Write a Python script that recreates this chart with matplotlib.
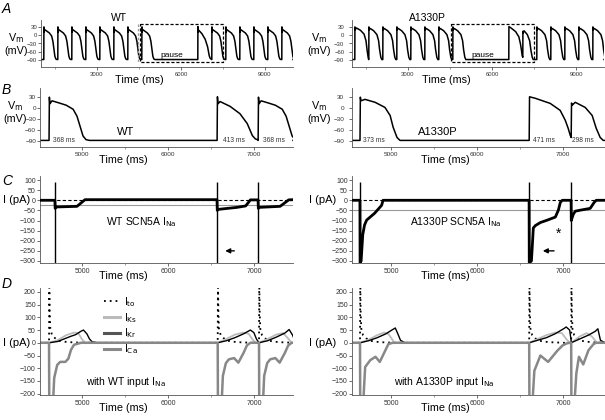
import matplotlib
matplotlib.use('Agg')
import matplotlib.pyplot as plt
from matplotlib.lines import Line2D

plt.rcParams['font.family'] = ['Liberation Sans', 'DejaVu Sans']

# ---------------- data ----------------
# Panel A: beat times (ms)
A_BEATS = [1100, 1600, 2100, 2600, 3100, 3600, 4100, 4600,
           6600, 7100, 7600, 8100, 8600, 9100, 9600]
A_LEFT_KIND = ['ss'] * 8 + ['post', 'ss', 'ss', 'ss', 'ss', 'ss', 'ss']
A_RIGHT_KIND = ['first'] + ['ss'] * 7 + ['post', 'short', 'ss', 'ss', 'ss', 'ss', 'ss']

# AP templates (time after upstroke in ms, Vm in mV)
WT_SS_T = [0, 4, 10, 35, 120, 200, 280, 325, 360, 395, 430, 470]
WT_SS_V = [-88, 30, 12, 20, 14, 8, -3, -22, -49, -76, -86, -88]
WT_POST_T = [0, 4, 10, 35, 150, 265, 350, 410, 445, 470]
WT_POST_V = [-88, 31, 12, 18, 5, -15, -42, -75, -84, -86]
MUT_FIRST_T = [0, 4, 10, 60, 200, 330, 400, 440, 480, 495]
MUT_FIRST_V = [-88, 30, 20, 26, 18, 4, -20, -55, -82, -88]
MUT_SS_T = [0, 4, 10, 58, 175, 290, 350, 385, 430, 465]
MUT_SS_V = [-88, 30, 20, 24, 16, 2, -20, -52, -80, -88]
MUT_POST_T = [0, 4, 70, 244, 360, 419, 453, 477]
MUT_POST_V = [-88, 31, 27, 13, -6, -33, -55, -74]
MUT_SHORT_T = [0, 4, 12, 47, 163, 244, 291, 337, 372]
MUT_SHORT_V = [-80, 14, 8, 16, 2, -20, -55, -80, -88]

# Panel B beat times (ms)
B_LEFT_BEATS = [4615, 6568, 7045]
B_RIGHT_BEATS = [4638, 6604, 7092]

# Panel C: I_Na (ms, pA): spikes + slow trace
C_LEFT_SPIKES = [4684, 6568, 7045]
C_RIGHT_SPIKES = [4638, 6604, 7092]
SPIKE_TOP = 90
SPIKE_BOT = -310
C_LEFT_T = [4510, 4683, 4686, 4700, 4940, 5033, 6567, 6570,
            6580, 6800, 6900, 6955, 7044, 7047, 7060, 7300, 7400, 7450]
C_LEFT_I = [0, 0, -40, -33, -30, 3, 3, -50,
            -45, -35, -28, 2, 2, -40, -35, -30, 2, 3]
C_RIGHT_T = [4545, 4637, 4639, 4651, 4670, 4691, 4715, 4808, 4889, 4906, 6603,
             6605, 6630, 6641, 6652, 6676, 6734, 6815, 6908, 6943, 6966, 6989,
             7091, 7093, 7116, 7139, 7197, 7313, 7360, 7383, 7485]
C_RIGHT_I = [0, 0, -310, -300, -170, -122, -98, -64, -25, 0, 0,
             -310, -300, -220, -137, -125, -110, -98, -83, -49, -10, 0,
             0, -100, -70, -54, -49, -40, -10, 0, 0]

# Panel D: ionic currents, per beat (time after beat in ms, pA)
D_LEFT_BEATS = [4615, 6575, 7055]
D_RIGHT_BEATS = [4638, 6604, 7092]
ITO_T = [0, 3, 8, 15, 35, 70, 116, 186, 260, 400]
ITO_I = [0, 240, 120, 55, 30, 18, 8, 4, 2, 0]
L_ICA_T = [[0, 3, 40, 60, 95, 130, 190, 225, 255, 290, 370],
           [0, 3, 40, 60, 95, 130, 190, 240, 300, 340, 380],
           [0, 3, 40, 60, 95, 130, 190, 240, 300, 340, 380]]
L_ICA_I = [[0, -280, -280, -138, -87, -75, -75, -62, -28, -8, 0],
           [0, -280, -280, -130, -80, -65, -60, -78, -40, -10, 0],
           [0, -280, -280, -130, -80, -65, -60, -78, -40, -10, 0]]
L_IKR_T = [[0, 100, 250, 310, 370, 400, 440, 470, 500, 560],
           [0, 100, 200, 300, 380, 420, 450, 470],
           [0, 100, 200, 300, 350, 390, 420]]
L_IKR_I = [[0, 5, 25, 32, 45, 50, 35, 15, 4, 0],
           [0, 8, 20, 35, 50, 40, 15, 5],
           [0, 8, 22, 38, 52, 30, 5]]
L_IKS_T = [[0, 100, 200, 290, 340, 380, 420],
           [0, 100, 200, 300, 360, 400, 440],
           [0, 100, 200, 280, 330, 380]]
L_IKS_I = [[0, 10, 30, 40, 38, 15, 0],
           [0, 15, 32, 40, 35, 15, 0],
           [0, 15, 32, 38, 20, 0]]
R_ICA_T = [[0, 3, 30, 60, 120, 180, 230, 280, 330, 380],
           [0, 3, 30, 60, 130, 220, 330, 390, 440, 470],
           [0, 3, 30, 60, 90, 140, 200, 260, 290]]
R_ICA_I = [[0, -280, -280, -95, -68, -55, -75, -40, -5, 0],
           [0, -280, -280, -110, -50, -75, -30, -10, -2, 0],
           [0, -280, -280, -120, -55, -85, -30, -5, 0]]
R_IKR_T = [[0, 100, 200, 300, 380, 410, 440, 470, 520],
           [0, 100, 200, 300, 400, 430, 470, 487],
           [0, 100, 200, 280, 310, 340]]
R_IKR_I = [[0, 8, 20, 35, 52, 58, 35, 10, 0],
           [0, 10, 20, 35, 55, 62, 50, 10],
           [0, 15, 30, 45, 55, 10]]
R_IKS_T = [[0, 100, 200, 280, 330, 370, 400],
           [0, 100, 200, 300, 380, 430, 470],
           [0, 100, 180, 240, 300]]
R_IKS_I = [[0, 12, 30, 40, 35, 15, 0],
           [0, 15, 30, 40, 38, 15, 0],
           [0, 25, 38, 25, 0]]

A_TICKS = [3000, 6000, 9000]
BCD_TICKS = [5000, 6000, 7000]
VM_TICKS = [30, 0, -30, -60, -90]
C_TICKS = [100, 50, 0, -50, -100, -150, -200, -250, -300]
D_TICKS = [200, 150, 100, 50, 0, -50, -100, -150, -200]

# ---------------- helpers ----------------
W, H = 605, 420
fig = plt.figure(figsize=(6.05, 4.2), dpi=100)


def ax_px(x0, y0, x1, y1):
    return fig.add_axes([x0 / W, 1 - y1 / H, (x1 - x0) / W, (y1 - y0) / H])


TEMPL = {
    'ss_L': (WT_SS_T, WT_SS_V), 'post_L': (WT_POST_T, WT_POST_V),
    'first_R': (MUT_FIRST_T, MUT_FIRST_V), 'ss_R': (MUT_SS_T, MUT_SS_V),
    'post_R': (MUT_POST_T, MUT_POST_V), 'short_R': (MUT_SHORT_T, MUT_SHORT_V),
}


def build_ap(beats, kinds, side, t0, t1):
    ts, vs = [t0], [-88]
    for b, k in zip(beats, kinds):
        tt, vv = TEMPL[k + '_' + side]
        ts += [b + t for t in tt]
        vs += list(vv)
    ts.append(t1)
    vs.append(-88)
    return ts, vs


def build_cur(beats, rel_t, rel_i, t0, t1):
    ts, vs = [t0], [0]
    for b, tt, ii in zip(beats, rel_t, rel_i):
        ts += [b + t for t in tt]
        vs += list(ii)
    ts.append(t1)
    vs.append(0)
    return ts, vs


def xlabel_y_of(ax):
    h = ax.get_position().height * H
    return -13.0 / h


def style(ax, xlim, ylim, xticks, yticks, tsize, xlabel_x, xminor=None, ypad=1.0):
    ax.set_xlim(*xlim)
    ax.set_ylim(*ylim)
    for s in ('top', 'right'):
        ax.spines[s].set_visible(False)
    for s in ('left', 'bottom'):
        ax.spines[s].set_linewidth(0.6)
        ax.spines[s].set_color('#555555')
    ax.set_xticks(xticks)
    ax.set_yticks(yticks)
    if xminor is not None:
        ax.set_xticks(xminor, minor=True)
    ax.tick_params(axis='both', which='major', labelsize=tsize, length=2.0,
                   width=0.6, color='#555555', pad=1.5, labelcolor='#333333')
    ax.tick_params(axis='y', which='major', pad=ypad)
    ax.tick_params(axis='both', which='minor', length=1.5, width=0.5, color='#777777')
    ax.set_xlabel('Time (ms)', fontsize=7.8, va='center', ha='center')
    ax.xaxis.set_label_coords(xlabel_x, xlabel_y_of(ax))
    ax.patch.set_alpha(0)


def vm_label(ax, xc, yc):
    ax.set_ylabel('V$_{\\rm m}$\n(mV)', fontsize=7.8, rotation=0, ha='center', va='center',
                  linespacing=1.05)
    ax.yaxis.set_label_coords(xc, yc)


def i_label(ax, xr, yc):
    ax.set_ylabel('I (pA)', fontsize=8, rotation=0, ha='right', va='center')
    ax.yaxis.set_label_coords(xr, yc)


XL_LEFT = 0.33
XL_RIGHT = 0.37

# ---------------- panel A ----------------
A_XL = (1000, 10000)
for side, kinds, x0, title, tx, lx, tl in (('L', A_LEFT_KIND, 41, 'WT', 0.31, -0.1, 0.39),
                                          ('R', A_RIGHT_KIND, 352, 'A1330P', 0.30, -0.13, 0.375)):
    ax = ax_px(x0, 20, x0 + 252, 67)
    t, v = build_ap(A_BEATS, kinds, side, A_XL[0], A_XL[1])
    ax.plot(t, v, color='black', lw=1.1)
    style(ax, A_XL, (-115, 55), A_TICKS, VM_TICKS, 4.3, tl,
          xminor=[1500, 4500, 7500], ypad=0.8 if side == 'L' else 3.5)
    ax.text(tx, 1.04, title, transform=ax.transAxes, fontsize=7.5, ha='center', va='center')
    vm_label(ax, lx, 0.5)
    # pause box
    ax.plot([4536, 7510, 7510, 4536, 4536], [41, 41, -97, -97, 41], ls=(0, (2.5, 1.5)),
            color='black', lw=0.9)
    ax.text(5680, -72, 'pause', fontsize=6, ha='center', va='center')
    if side == 'L':
        ax.plot([4464, 4464], [41, -97], ls=(0, (2, 1.5)), color='#999999', lw=0.9)

# ---------------- panel B ----------------
B_LXL = (4510, 7450)
B_RXL = (4545, 7485)
for side, beats, kinds, x0, xl, lbls, name, nx, lx in (
        ('L', B_LEFT_BEATS, ['ss', 'post', 'ss'], 40, B_LXL,
         [(4661, '368 ms'), (6638, '413 ms'), (7103, '368 ms')], 'WT', 5499, -0.1),
        ('R', B_RIGHT_BEATS, ['ss', 'post', 'short'], 352, B_RXL,
         [(4673, '373 ms'), (6650, '471 ms'), (7104, '298 ms')], 'A1330P', 5545, -0.13)):
    ax = ax_px(x0, 88, x0 + 253, 147)
    t, v = build_ap(beats, kinds, side, xl[0], xl[1])
    ax.plot(t, v, color='black', lw=1.1)
    style(ax, xl, (-106, 55), BCD_TICKS, VM_TICKS, 4.6, XL_LEFT if side == 'L' else XL_RIGHT,
          xminor=[5500, 6500], ypad=0.8 if side == 'L' else 3.5)
    vm_label(ax, lx, 0.6)
    for tx, s in lbls:
        ax.text(tx, -88, s, fontsize=4.8, ha='left', va='center', color='#333333')
    ax.text(nx, -66, name, fontsize=8, ha='center', va='center')

# ---------------- panel C ----------------
for side, spikes, T, I, x0, xl, label, lxc, ref, ax_arrow, ilx in (
        ('L', C_LEFT_SPIKES, C_LEFT_T, C_LEFT_I, 40, B_LXL, 'WT SCN5A I$_{\\rm Na}$', 5685,
         -22, (6800, 6630), -0.038),
        ('R', C_RIGHT_SPIKES, C_RIGHT_T, C_RIGHT_I, 352, B_RXL, 'A1330P SCN5A I$_{\\rm Na}$',
         5755, -50, (6925, 6730), -0.062)):
    ax = ax_px(x0, 176, x0 + 253, 263)
    ax.axhline(0, color='black', lw=0.8, ls=(0, (3, 2)), zorder=1)
    ax.axhline(ref, color='#999999', lw=0.8, zorder=1)
    ax.vlines(spikes, SPIKE_BOT, SPIKE_TOP, color='black', lw=1.0, zorder=3)
    ax.plot(T, I, color='black', lw=2.0, solid_joinstyle='round', zorder=3)
    style(ax, xl, (-310, 120), BCD_TICKS, C_TICKS, 5.0, XL_LEFT if side == 'L' else XL_RIGHT,
          xminor=[5500, 6500])
    i_label(ax, ilx, 0.724)
    ax.text(lxc, -108, label, fontsize=7.5, ha='center', va='center')
    ax.annotate('', xy=(ax_arrow[1], -250), xytext=(ax_arrow[0], -250),
                arrowprops=dict(arrowstyle='-|>', color='black', lw=1.0,
                                mutation_scale=7))
    if side == 'R':
        ax.text(6940, -165, '*', fontsize=10, ha='center', va='center')

# ---------------- panel D ----------------
for side, beats, ca_t, ca_i, kr_t, kr_i, ks_t, ks_i, x0, xl, label, lxc, ilx in (
        ('L', D_LEFT_BEATS, L_ICA_T, L_ICA_I, L_IKR_T, L_IKR_I, L_IKS_T, L_IKS_I, 40, B_LXL,
         'with WT input I$_{\\rm Na}$', 5510, -0.038),
        ('R', D_RIGHT_BEATS, R_ICA_T, R_ICA_I, R_IKR_T, R_IKR_I, R_IKS_T, R_IKS_I, 352, B_RXL,
         'with A1330P input I$_{\\rm Na}$', 5615, -0.062)):
    ax = ax_px(x0, 288, x0 + 253, 395)
    t, v = build_cur(beats, [ITO_T] * 3, [ITO_I] * 3, xl[0], xl[1])
    ax.plot(t, v, color='black', lw=1.3, ls=(0, (1, 2.2)))
    t, v = build_cur(beats, ks_t, ks_i, xl[0], xl[1])
    ax.plot(t, v, color='#bbbbbb', lw=1.3)
    t, v = build_cur(beats, kr_t, kr_i, xl[0], xl[1])
    ax.plot(t, v, color='black', lw=1.0)
    t, v = build_cur(beats, ca_t, ca_i, xl[0], xl[1])
    ax.plot(t, v, color='#888888', lw=1.8)
    style(ax, xl, (-205, 215), BCD_TICKS, D_TICKS, 5.0, XL_LEFT if side == 'L' else XL_RIGHT,
          xminor=[5500, 6500])
    i_label(ax, ilx, 0.486)
    ax.text(lxc, -154, label, fontsize=7.5, ha='center', va='center')
    if side == 'L':
        handles = [Line2D([], [], color='black', lw=1.3, ls=(0, (1, 2.2))),
                   Line2D([], [], color='#bbbbbb', lw=2.2),
                   Line2D([], [], color='#555555', lw=2.2),
                   Line2D([], [], color='#888888', lw=2.2)]
        labels = ['I$_{\\rm to}$', 'I$_{\\rm Ks}$', 'I$_{\\rm Kr}$', 'I$_{\\rm Ca}$']
        ax.legend(handles, labels, loc='upper left', bbox_to_anchor=(0.235, 0.975),
                  frameon=False, fontsize=7.5, handlelength=1.6, handletextpad=0.4,
                  labelspacing=0.2, borderaxespad=0)

# ---------------- panel letters ----------------
for letter, x, y in (('A', 6, 9), ('B', 6, 90), ('C', 7, 181), ('D', 7, 284)):
    fig.text(x / W, 1 - y / H, letter, fontsize=10, style='italic', ha='center', va='center')

fig.savefig('out.png', dpi=100)
